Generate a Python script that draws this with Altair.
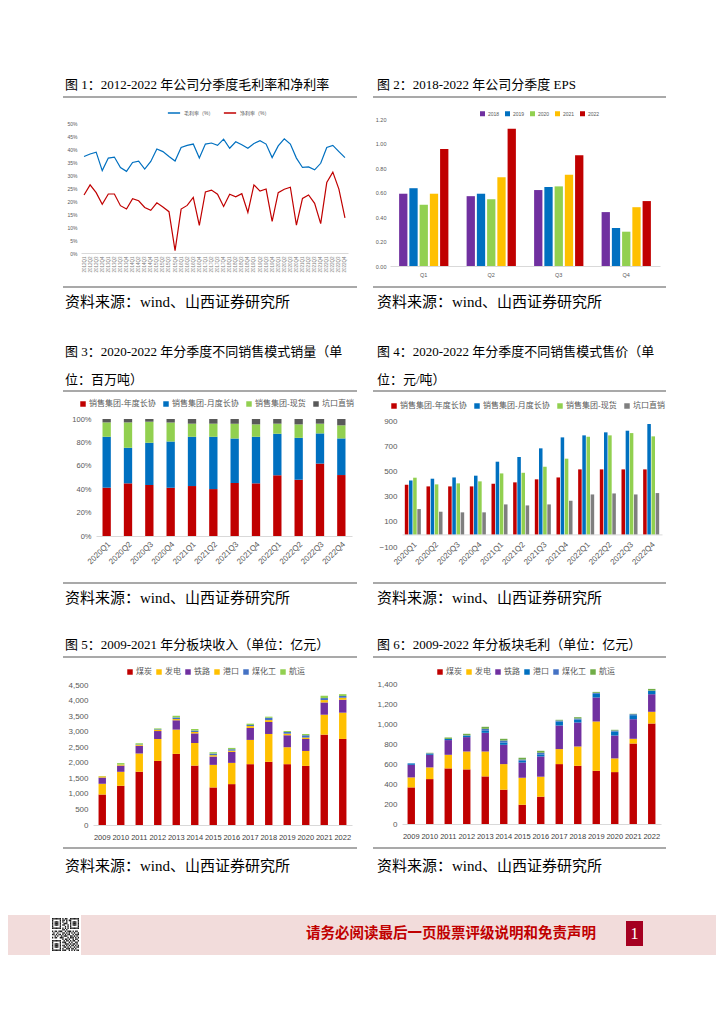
import altair as alt
import pandas as pd

# ---------------- data ----------------
quarters_1 = [f"{y}Q{q}" for y in range(2012, 2023) for q in range(1, 5)]
gross_margin = [37.1, 38.1, 38.8, 31.7, 36.5, 36.9, 32.9, 31.4, 34.8, 35.3,
                32.3, 35.2, 40.0, 39.0, 37.1, 35.4, 40.6, 41.4, 41.9, 36.5,
                41.9, 42.3, 41.4, 43.8, 40.3, 42.8, 41.6, 40.3, 42.1, 43.2,
                41.9, 36.7, 41.2, 43.9, 41.9, 36.5, 32.9, 33.1, 32.0, 34.5,
                40.6, 41.4, 39.0, 36.7]
net_margin = [22.3, 26.2, 23.2, 18.7, 22.7, 22.7, 18.2, 16.9, 20.9, 20.1,
              17.5, 16.4, 19.3, 17.7, 15.9, 0.9, 16.9, 18.3, 21.4, 10.6,
              23.5, 24.2, 22.6, 17.9, 22.6, 21.6, 22.8, 15.6, 26.2, 23.8,
              24.6, 12.2, 23.2, 24.5, 25.3, 10.7, 21.0, 22.3, 19.1, 11.3,
              27.1, 31.1, 24.6, 13.5]
margin_names = ["毛利率（%）", "净利率（%）"]

eps_quarters = ["Q1", "Q2", "Q3", "Q4"]
eps_years = ["2018", "2019", "2020", "2021", "2022"]
eps_2018 = [0.59, 0.57, 0.62, 0.44]
eps_2019 = [0.635, 0.59, 0.645, 0.31]
eps_2020 = [0.50, 0.545, 0.65, 0.28]
eps_2021 = [0.59, 0.725, 0.745, 0.48]
eps_2022 = [0.955, 1.12, 0.905, 0.53]

sales_quarters = ["2020Q1", "2020Q2", "2020Q3", "2020Q4", "2021Q1", "2021Q2",
                  "2021Q3", "2021Q4", "2022Q1", "2022Q2", "2022Q3", "2022Q4"]
mode_names = ["销售集团-年度长协", "销售集团-月度长协", "销售集团-现货", "坑口直销"]
vol_annual = [41.3, 45.0, 43.6, 41.3, 42.7, 40.1, 45.3, 45.0, 51.9, 48.1, 61.9, 52.1]
vol_monthly = [43.5, 30.4, 36.1, 39.5, 42.1, 44.7, 38.1, 39.8, 35.5, 35.8, 25.8, 31.3]
vol_spot = [12.3, 21.7, 18.0, 16.3, 11.2, 11.2, 12.6, 10.6, 8.6, 11.5, 8.3, 11.2]
vol_mine = [2.9, 2.9, 2.3, 2.9, 4.0, 4.0, 4.0, 4.6, 4.0, 4.6, 4.0, 5.4]

price_annual = [394, 381, 381, 381, 402, 413, 437, 452, 516, 516, 516, 516]
price_monthly = [428, 442, 452, 466, 577, 614, 683, 770, 786, 810, 823, 876]
price_spot = [450, 397, 405, 421, 484, 489, 537, 601, 775, 786, 804, 778]
price_mine = [201, 180, 175, 175, 238, 230, 238, 267, 317, 325, 317, 328]

seg_years = ["2009", "2010", "2011", "2012", "2013", "2014", "2015",
             "2016", "2017", "2018", "2019", "2020", "2021", "2022"]
seg_names = ["煤炭", "发电", "铁路", "港口", "煤化工", "航运"]
rev_coal = [980, 1260, 1710, 2060, 2286, 1910, 1207, 1314, 1955, 2030, 1955, 1900, 2905, 2766]
rev_power = [345, 450, 590, 705, 780, 725, 726, 683, 780, 896, 545, 480, 640, 845]
rev_rail = [200, 200, 245, 255, 300, 310, 267, 353, 385, 385, 385, 385, 395, 415]
rev_port = [40, 30, 25, 35, 40, 45, 45, 40, 60, 60, 50, 45, 75, 65]
rev_chem = [0, 0, 20, 20, 50, 45, 50, 45, 35, 75, 55, 75, 65, 55]
rev_ship = [10, 50, 40, 30, 55, 50, 45, 43, 42, 36, 32, 40, 75, 60]

gp_coal = [366, 449, 556, 546, 476, 343, 193, 273, 599, 582, 532, 519, 805, 1005]
gp_power = [100, 117, 136, 179, 249, 256, 270, 200, 150, 193, 493, 137, 47, 117]
gp_rail = [126, 126, 147, 144, 187, 193, 153, 203, 236, 240, 240, 229, 196, 176]
gp_port = [14, 10, 12, 13, 20, 23, 17, 20, 40, 30, 37, 40, 40, 33]
gp_chem = [0, 5, 0, 5, 20, 20, 13, 17, 10, 10, 10, 10, 10, 3]
gp_ship = [0, 5, 14, 15, 20, 17, 16, 19, 7, 13, 9, 7, 4, 17]

qr_rows = [
    "1111111" + "0101100" + "1111111", "1000001" + "0110101" + "1000001",
    "1011101" + "0100100" + "1011101", "1011101" + "0011100" + "1011101",
    "1011101" + "0110010" + "1011101", "1000001" + "0001010" + "1000001",
    "1111111" + "0101010" + "1111111", "0000000" + "0110100" + "0000000",
    "1011011" + "1001011" + "1010110", "0100100" + "0110101" + "0101001",
    "1101011" + "0101011" + "0010111", "0010100" + "1011100" + "1101010",
    "1011001" + "1100010" + "1110101", "0000000" + "0101101" + "0010110",
    "1111111" + "0010110" + "1011001", "1000001" + "0111001" + "0100110",
    "1011101" + "0001110" + "1011010", "1011101" + "0110101" + "0110101",
    "1011101" + "0011010" + "1001011", "1000001" + "0100111" + "0110100",
    "1111111" + "0111001" + "0101011",
]

# ---------------- styles / layout ----------------
W, H = 708, 1008
CF = "'Liberation Sans', 'Noto Sans CJK SC', sans-serif"
CAP = "'Liberation Serif', 'Noto Sans CJK SC', serif"
LAB = "#595959"
RULE = "#8c8c8c"
ONE = pd.DataFrame({"k": [0]})
SRC = "资料来源：wind、山西证券研究所"
SRC_SIZE = 15


def yaxis(values, left, size=8, pad=5, fmt=None, expr=None):
    kw = dict(title=None, orient="left", offset=-left, values=values, labelFontSize=size,
              labelColor=LAB, labelPadding=pad, domain=False, ticks=False, grid=False,
              labelFont=CF)
    if fmt:
        kw["format"] = fmt
    if expr:
        kw["labelExpr"] = expr
    return alt.Axis(**kw)


def xaxis(at, size=8, pad=3, angle=0, color=LAB, domain=True):
    return alt.Axis(title=None, orient="bottom", offset=at - H, labelAngle=angle,
                    labelFontSize=size, labelColor=color, labelPadding=pad, domain=domain,
                    domainColor="#d9d9d9", ticks=False, labelOverlap=False, labelFont=CF)


def legend(x, y, size=8, sym=36, col=6, off=2, stype="square"):
    return alt.Legend(title=None, orient="none", legendX=x, legendY=y,
                      direction="horizontal", labelFontSize=size, labelColor=LAB,
                      labelFont=CF, symbolType=stype, symbolSize=sym,
                      columnPadding=col, labelOffset=off)


def txt(x, y, s, size=13, color="#000000", font=CAP, weight="normal", align="left"):
    return alt.Chart(ONE).mark_text(text=s, fontSize=size, color=color, font=font,
                                    fontWeight=weight, align=align, baseline="middle"
                                    ).encode(x=alt.value(x), y=alt.value(y))


def rule(x1, x2, y, color=RULE, w=1.5):
    return alt.Chart(ONE).mark_rule(color=color, strokeWidth=w).encode(
        x=alt.value(x1), x2=alt.value(x2), y=alt.value(y))


def box(x1, x2, y1, y2, color):
    return alt.Chart(ONE).mark_rect(color=color).encode(
        x=alt.value(x1), x2=alt.value(x2), y=alt.value(y1), y2=alt.value(y2))


# ---------------- chart 1 : margins ----------------
df1 = pd.DataFrame({"q": quarters_1 * 2,
                    "s": [margin_names[0]] * len(gross_margin) + [margin_names[1]] * len(net_margin),
                    "v": gross_margin + net_margin})
c1 = alt.Chart(df1).mark_line(strokeWidth=1.2).encode(
    x=alt.X("q:N", sort=quarters_1, scale=alt.Scale(type="point", padding=0.5, range=[73, 340]),
            axis=xaxis(245, size=4.5, pad=3, angle=-90, color="#7f7f7f")),
    y=alt.Y("v:Q", scale=alt.Scale(domain=[0, 50], nice=False, range=[245, 115]),
            axis=yaxis(list(range(0, 51, 5)), 73, size=5, pad=4, expr="datum.value + '%'")),
    color=alt.Color("s:N", sort=margin_names,
                    scale=alt.Scale(domain=margin_names, range=["#0070C0", "#C00000"]),
                    legend=legend(159, 98, size=5, sym=150, col=6, off=3, stype="stroke")),
)

# ---------------- chart 2 : EPS ----------------
eps_vals = [eps_2018, eps_2019, eps_2020, eps_2021, eps_2022]
df2 = pd.DataFrame([{"q": q, "yr": yr, "v": vals[i]}
                    for yr, vals in zip(eps_years, eps_vals)
                    for i, q in enumerate(eps_quarters)])
c2 = alt.Chart(df2).mark_bar().encode(
    x=alt.X("q:N", sort=eps_quarters,
            scale=alt.Scale(paddingInner=0.27, paddingOuter=0.135, range=[382, 652]),
            axis=xaxis(258, size=5.5, pad=6)),
    xOffset=alt.XOffset("yr:N", sort=eps_years, scale=alt.Scale(paddingInner=0.19)),
    y=alt.Y("v:Q", scale=alt.Scale(domain=[0, 1.2], nice=False, range=[258, 111]),
            axis=yaxis([0, 0.2, 0.4, 0.6, 0.8, 1.0, 1.2], 382, size=5.5, pad=4, fmt=".2f")),
    color=alt.Color("yr:N", sort=eps_years,
                    scale=alt.Scale(domain=eps_years,
                                    range=["#7030A0", "#0070C0", "#92D050", "#FFC000", "#C00000"]),
                    legend=legend(471, 102, size=5, sym=25, col=4, off=2)),
)

# ---------------- chart 3 : volume mix ----------------
vol_vals = [vol_annual, vol_monthly, vol_spot, vol_mine]
df3 = pd.DataFrame([{"q": q, "m": m, "idx": k, "v": vals[i]}
                    for k, (m, vals) in enumerate(zip(mode_names, vol_vals))
                    for i, q in enumerate(sales_quarters)])
c3 = alt.Chart(df3).mark_bar().encode(
    x=alt.X("q:N", sort=sales_quarters,
            scale=alt.Scale(paddingInner=0.61, paddingOuter=0.305, range=[88, 344]),
            axis=xaxis(528, size=8, pad=4, angle=-45)),
    y=alt.Y("v:Q", stack="zero", scale=alt.Scale(domain=[0, 100], nice=False, range=[528, 411]),
            axis=yaxis([0, 20, 40, 60, 80, 100], 88, size=7.5, pad=5, expr="datum.value + '%'")),
    color=alt.Color("m:N", sort=mode_names,
                    scale=alt.Scale(domain=mode_names,
                                    range=["#C00000", "#0070C0", "#92D050", "#595959"]),
                    legend=legend(71, 392, size=8, sym=30, col=6, off=2)),
    order=alt.Order("idx:Q", sort="ascending"),
)

# ---------------- chart 4 : prices ----------------
price_vals = [price_annual, price_monthly, price_spot, price_mine]
df4 = pd.DataFrame([{"q": q, "m": m, "v": vals[i]}
                    for m, vals in zip(mode_names, price_vals)
                    for i, q in enumerate(sales_quarters)])
c4 = alt.Chart(df4).mark_bar().encode(
    x=alt.X("q:N", sort=sales_quarters,
            scale=alt.Scale(paddingInner=0.26, paddingOuter=0.13, range=[394, 654]),
            axis=xaxis(526.4, size=8, pad=6, angle=-45)),
    xOffset=alt.XOffset("m:N", sort=mode_names, scale=alt.Scale(paddingInner=0.15)),
    y=alt.Y("v:Q", scale=alt.Scale(domain=[-100, 900], nice=False, range=[539, 413]),
            axis=yaxis([-100, 100, 300, 500, 700, 900], 394, size=8, pad=5)),
    color=alt.Color("m:N", sort=mode_names,
                    scale=alt.Scale(domain=mode_names,
                                    range=["#C00000", "#0070C0", "#92D050", "#7F7F7F"]),
                    legend=legend(382, 394, size=8, sym=30, col=6, off=2)),
)


# ---------------- charts 5 / 6 : segments ----------------
def seg_chart(series, colors, ymax, step, xr, yr_, lx, ly):
    df = pd.DataFrame([{"yr": yr, "s": s, "idx": k, "v": vals[i]}
                       for k, (s, vals) in enumerate(zip(seg_names, series))
                       for i, yr in enumerate(seg_years)])
    return alt.Chart(df).mark_bar().encode(
        x=alt.X("yr:N", sort=seg_years,
                scale=alt.Scale(paddingInner=0.6, paddingOuter=0.3, range=xr),
                axis=xaxis(yr_[0], size=7.5, pad=8, color="#404040")),
        y=alt.Y("v:Q", stack="zero", scale=alt.Scale(domain=[0, ymax], nice=False, range=yr_),
                axis=yaxis(list(range(0, ymax + 1, step)), xr[0], size=8, pad=5, fmt=",.0f")),
        color=alt.Color("s:N", sort=seg_names, scale=alt.Scale(domain=seg_names, range=colors),
                        legend=legend(lx, ly, size=8, sym=30, col=3, off=2)),
        order=alt.Order("idx:Q", sort="ascending"),
    )


c5 = seg_chart([rev_coal, rev_power, rev_rail, rev_port, rev_chem, rev_ship],
               ["#C00000", "#FFC000", "#7030A0", "#FFC000", "#4472C4", "#92D050"],
               4500, 500, [85, 344], [817, 677], 118, 660)
c6 = seg_chart([gp_coal, gp_power, gp_rail, gp_port, gp_chem, gp_ship],
               ["#C00000", "#FFC000", "#7030A0", "#0070C0", "#4472C4", "#70AD47"],
               1400, 200, [394, 653], [816, 676], 428, 660)

# ---------------- page texts & rules ----------------
decor = [
    txt(57, 77, "图 1：2012-2022 年公司分季度毛利率和净利率"),
    txt(369, 77, "图 2：2018-2022 年公司分季度 EPS"),
    rule(55, 349, 89), rule(365, 658, 89),
    rule(55, 349, 279), rule(365, 658, 279),
    txt(57, 294, SRC, size=SRC_SIZE), txt(369, 294, SRC, size=SRC_SIZE),
    txt(57, 344, "图 3：2020-2022 年分季度不同销售模式销量（单"),
    txt(57, 372, "位：百万吨）"),
    txt(369, 344, "图 4：2020-2022 年分季度不同销售模式售价（单"),
    txt(369, 372, "位：元/吨）"),
    rule(55, 349, 383), rule(365, 658, 383),
    rule(55, 349, 575), rule(365, 658, 575),
    txt(57, 590, SRC, size=SRC_SIZE), txt(369, 590, SRC, size=SRC_SIZE),
    txt(57, 637, "图 5：2009-2021 年分板块收入（单位：亿元）"),
    txt(369, 637, "图 6：2009-2022 年分板块毛利（单位：亿元）"),
    rule(55, 349, 649), rule(365, 658, 649),
    rule(55, 349, 840), rule(365, 658, 840),
    txt(57, 858, SRC, size=SRC_SIZE), txt(369, 858, SRC, size=SRC_SIZE),
    # footer
    box(0, W, 907, 947, "#F2DCDB"),
    box(42, 73, 907, 947, "#FFFFFF"),
    txt(443, 926, "请务必阅读最后一页股票评级说明和免责声明", size=14.5, color="#C00000",
        font="'Noto Sans CJK SC', sans-serif", weight="bold", align="center"),
    box(618, 635, 913, 938, "#A50021"),
    txt(626.5, 926, "1", size=16, color="#FFFFFF", align="center"),
]

qr_df = pd.DataFrame([{"r": r, "c": c} for r, row in enumerate(qr_rows)
                      for c, ch in enumerate(row) if ch == "1"])
qr_layer = alt.Chart(qr_df).mark_rect(color="#1a1a1a").encode(
    x=alt.X("c:O", scale=alt.Scale(domain=list(range(21)), range=[44, 71],
                                    paddingInner=0, paddingOuter=0), axis=None),
    y=alt.Y("r:O", scale=alt.Scale(domain=list(range(21)), range=[910, 943],
                                    paddingInner=0, paddingOuter=0), axis=None),
)

chart = alt.layer(*decor, qr_layer, c1, c2, c3, c4, c5, c6).resolve_scale(
    x="independent", y="independent", color="independent", xOffset="independent"
).resolve_legend(color="independent").properties(
    width=W, height=H, padding=0, background="white"
).configure_view(strokeWidth=0).configure_axis(labelFont=CF).configure_legend(labelFont=CF)

chart.save("out.html", embed_options={"renderer": "svg", "actions": False})
